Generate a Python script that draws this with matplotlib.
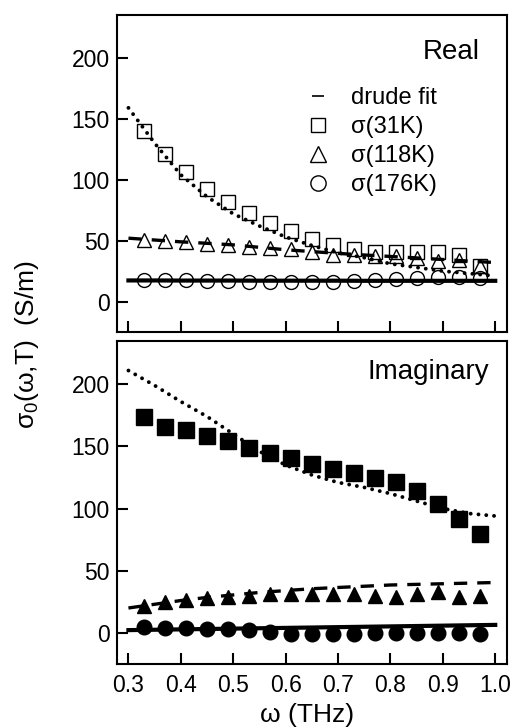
import numpy as np
import matplotlib
matplotlib.use("Agg")
import matplotlib.pyplot as plt
from matplotlib.lines import Line2D

plt.rcParams['font.family'] = ['Liberation Sans', 'DejaVu Sans']
plt.rcParams['mathtext.fontset'] = 'custom'
plt.rcParams['mathtext.rm'] = 'Liberation Sans'

# measured frequencies (THz)
omega = [0.33, 0.37, 0.41, 0.45, 0.49, 0.53, 0.57, 0.61, 0.65,
         0.69, 0.73, 0.77, 0.81, 0.85, 0.89, 0.93, 0.97]
# frequencies where the drude fit curves were read
omega_fit = [0.30, 0.35, 0.40, 0.45, 0.50, 0.55, 0.60, 0.65,
             0.70, 0.75, 0.80, 0.85, 0.90, 0.95, 1.00]

# real part (S/m)
re_31 = [140, 121, 106, 92, 82, 73, 64.5, 57.6, 51.4, 46.7, 43, 41, 41, 41, 41, 38.5, 29]
re_118 = [50.3, 49.5, 48.6, 47.3, 46.2, 44.8, 44, 43.2, 40.7, 38.5, 38, 37.7, 37, 35.8, 33, 34.4, 29.5]
re_176 = [17.9, 17.9, 17.5, 17, 16.5, 16.3, 16, 15.8, 15.8, 16, 16.5, 17.5, 18.5, 19.5, 20, 20.5, 19.5]
re_fit_31 = [159, 130, 104, 86, 72, 62, 53, 46, 40, 36, 31, 28, 25, 23, 21]
re_fit_118 = [52, 50.5, 49, 47.8, 46.5, 44.5, 42.5, 41, 39.5, 38.2, 37, 35.8, 34.5, 33.2, 32]
re_fit_176 = [17.3, 17.3, 17.2, 17.2, 17.2, 17.1, 17.1, 17.1, 17.1, 17.0, 17.0, 17.0, 17.0, 17.0, 17.0]

# imaginary part (S/m)
im_31 = [174, 165.3, 163, 158.6, 154.6, 149, 144.4, 140.3, 135.5, 131.7, 128.2, 124.7, 121, 114, 104, 91.4, 79.3]
im_118 = [22, 24.5, 26.5, 28, 29, 30, 31, 31, 31, 31, 31.5, 29.5, 28.5, 31.5, 32.5, 28.5, 29.5]
im_176 = [4.6, 4.0, 4.0, 3.2, 3.0, 2.1, 0.5, -0.8, -0.8, -1.3, -0.8, -0.5, -0.5, 0, 0, 0, -0.8]
im_fit_31 = [211, 199, 186, 174, 160, 146, 135, 127, 121, 117, 112, 106, 100, 96, 94]
im_fit_118 = [20, 23, 26, 28.5, 30.5, 32.5, 34, 35.5, 36.5, 37.5, 38.5, 39, 39.5, 40, 40.5]
im_fit_176 = [2.2, 2.5, 2.8, 3.1, 3.4, 3.7, 4.0, 4.3, 4.6, 4.9, 5.2, 5.5, 5.8, 6.1, 6.4]

xticks = [0.3, 0.4, 0.5, 0.6, 0.7, 0.8, 0.9, 1.0]
yticks = [0, 50, 100, 150, 200]

fig = plt.figure(figsize=(5.15, 7.28), dpi=100)
ax1 = fig.add_axes([0.227, 0.544, 0.757, 0.435])
ax2 = fig.add_axes([0.227, 0.088, 0.757, 0.444])

dot = dict(color='black', lw=2.8, linestyle=(0, (0.01, 2.0)), dash_capstyle='round')
dash = dict(color='black', lw=2.4, linestyle=(0, (4, 3)))
solid = dict(color='black', lw=3.0, linestyle='-')
ms = 9.5

# real panel
ax1.plot(omega_fit, re_fit_31, **dot)
ax1.plot(omega_fit, re_fit_118, **dash)
ax1.plot(omega_fit, re_fit_176, **solid)
ax1.plot(omega, re_31, 's', ms=ms, mfc='none', mec='black', mew=1.0)
ax1.plot(omega, re_118, '^', ms=ms + 1, mfc='none', mec='black', mew=1.0)
ax1.plot(omega, re_176, 'o', ms=ms + 0.5, mfc='none', mec='black', mew=1.0)

# imaginary panel
ax2.plot(omega_fit, im_fit_31, **dot)
ax2.plot(omega_fit, im_fit_118, **dash)
ax2.plot(omega_fit, im_fit_176, **solid)
ax2.plot(omega, im_31, 's', ms=ms + 1.5, color='black')
ax2.plot(omega, im_118, '^', ms=ms + 0.5, color='black')
ax2.plot(omega, im_176, 'o', ms=ms + 1, color='black')

for ax in (ax1, ax2):
    ax.set_xlim(0.278, 1.022)
    ax.set_ylim(-25, 235)
    ax.set_xticks(xticks)
    ax.set_yticks(yticks)
    ax.tick_params(direction='in', length=8, width=1.5, labelsize=16.5,
                   top=False, right=False)
    ax.tick_params(axis='x', pad=7)
    ax.tick_params(axis='y', pad=5)
    for s in ax.spines.values():
        s.set_linewidth(1.5)

ax1.tick_params(labelbottom=False)
ax2.set_xticklabels(['%.1f' % t for t in xticks])

ax1.text(0.93, 0.884, 'Real', transform=ax1.transAxes, ha='right', va='center', fontsize=20)
ax2.text(0.956, 0.904, 'Imaginary', transform=ax2.transAxes, ha='right', va='center', fontsize=20)

handles = [
    Line2D([], [], marker='_', ls='none', color='black', ms=9, mew=1.2),
    Line2D([], [], marker='s', ls='none', mfc='none', mec='black', ms=ms + 1, mew=1.0),
    Line2D([], [], marker='^', ls='none', mfc='none', mec='black', ms=ms + 1.5, mew=1.0),
    Line2D([], [], marker='o', ls='none', mfc='none', mec='black', ms=ms + 1.5, mew=1.0),
]
labels = ['drude fit', 'σ(31K)', 'σ(118K)', 'σ(176K)']
ax1.legend(handles, labels, loc='upper left', bbox_to_anchor=(0.485, 0.772),
           frameon=False, fontsize=17, handlelength=1.0, handletextpad=0.9,
           labelspacing=0.29, borderpad=0, borderaxespad=0)

fig.text(0.052, 0.526, 'σ$_0$(ω,T)  (S/m)', rotation=90, ha='center', va='center', fontsize=19)
fig.text(0.596, 0.018, 'ω (THz)', ha='center', va='center', fontsize=19)

fig.savefig('out.png', dpi=100)
